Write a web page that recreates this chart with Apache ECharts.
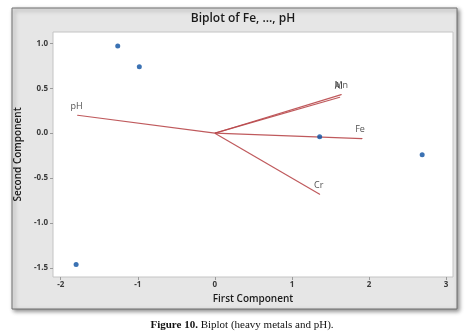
<!DOCTYPE html>
<html>
<head>
<meta charset="utf-8">
<script src="https://cdn.jsdelivr.net/npm/echarts@6/dist/echarts.min.js"></script>
<style>
  html, body { margin: 0; padding: 0; background: #ffffff; }
  #chart { width: 471px; height: 333px; }
</style>
</head>
<body>
<div id="chart"></div>
<script>
// PCA scores (first, second component)
const scoreX = [-1.26, -0.98, -1.80, 1.36, 2.69];
const scoreY = [0.97, 0.74, -1.46, -0.04, -0.24];

// Variable loadings drawn as vectors from the origin
const loadNames = ['pH', 'Al', 'Mn', 'Fe', 'Cr'];
const loadX = [-1.78, 1.62, 1.64, 1.91, 1.36];
const loadY = [0.20, 0.40, 0.43, -0.06, -0.68];

const xTicks = [-2, -1, 0, 1, 2, 3];
const yTicks = [-1.5, -1.0, -0.5, 0.0, 0.5, 1.0];

const vectorColor = '#b8474a';

const chart = echarts.init(document.getElementById('chart'));

// small nudges so overlapping names sit where the plot puts them
const labelShift = {
  pH: [-1, 0],
  Al: [-1, -2],
  Mn: [0, 0],
  Fe: [-2, 0],
  Cr: [-1, 0]
};

const vectorSeries = loadNames.map((name, i) => ({
  type: 'line',
  name: name,
  data: [[0, 0], [loadX[i], loadY[i]]],
  symbol: 'none',
  silent: true,
  lineStyle: { color: vectorColor, width: 1.2, opacity: 0.9 },
  z: 2
}));

// vector names placed at each arrow tip
const labelSeries = {
  type: 'scatter',
  name: 'names',
  silent: true,
  symbolSize: 1,
  itemStyle: { color: vectorColor },
  z: 4,
  data: loadNames.map((name, i) => ({
    value: [loadX[i], loadY[i]],
    label: {
      show: true,
      formatter: name,
      position: 'top',
      distance: 4,
      offset: labelShift[name],
      color: '#1e1e1e',
      fontSize: 9,
      fontFamily: 'Open Sans'
    }
  }))
};

chart.setOption({
  animation: false,
  backgroundColor: '#ffffff',
  graphic: [
    {
      type: 'rect',
      shape: { x: 12, y: 8, width: 445, height: 301 },
      style: {
        fill: '#e6e6e6',
        stroke: '#707070',
        lineWidth: 1,
        shadowBlur: 4,
        shadowOffsetX: 2,
        shadowOffsetY: 2,
        shadowColor: 'rgba(0,0,0,0.45)'
      },
      z: -10
    }
  ],
  title: [
    {
      text: 'Biplot of Fe, ..., pH',
      left: 238,
      textAlign: 'center',
      top: 8,
      textStyle: { fontFamily: 'Open Sans', fontSize: 12, fontWeight: 600, color: '#1a1a1a' }
    },
    {
      text: '{b|Figure 10.} Biplot (heavy metals and pH).',
      left: 237,
      textAlign: 'center',
      top: 315,
      textStyle: {
        fontFamily: 'Liberation Serif',
        fontSize: 11,
        fontWeight: 'normal',
        color: '#111111',
        rich: {
          b: { fontFamily: 'Liberation Serif', fontSize: 11, fontWeight: 'bold', color: '#111111' }
        }
      }
    }
  ],
  grid: {
    left: 53, right: 18, top: 32, bottom: 56,
    show: true,
    backgroundColor: '#ffffff',
    borderColor: '#c4c4c4',
    borderWidth: 1
  },
  xAxis: {
    type: 'value',
    min: -2.1,
    max: 3.09,
    name: 'First Component',
    nameLocation: 'middle',
    nameGap: 17,
    nameTextStyle: { fontFamily: 'Open Sans', fontSize: 10, fontWeight: 600, color: '#1a1a1a' },
    axisLine: { show: false, onZero: false },
    axisTick: { show: true, length: 3, lineStyle: { color: '#9a9a9a' }, customValues: xTicks },
    axisLabel: {
      fontFamily: 'Open Sans', fontSize: 8, fontWeight: 'bold', color: '#3a3a3a', margin: 4,
      customValues: xTicks,
      formatter: v => String(v)
    },
    splitLine: { show: false }
  },
  yAxis: {
    type: 'value',
    min: -1.6,
    max: 1.126,
    name: 'Second Component',
    nameLocation: 'middle',
    nameGap: 29,
    nameTextStyle: { fontFamily: 'Open Sans', fontSize: 10, fontWeight: 600, color: '#1a1a1a' },
    axisLine: { show: false, onZero: false },
    axisTick: { show: true, length: 3, lineStyle: { color: '#9a9a9a' }, customValues: yTicks },
    axisLabel: {
      fontFamily: 'Open Sans', fontSize: 8, fontWeight: 'bold', color: '#3a3a3a', margin: 5,
      customValues: yTicks,
      formatter: v => v.toFixed(1)
    },
    splitLine: { show: false }
  },
  series: [
    ...vectorSeries,
    labelSeries,
    {
      type: 'scatter',
      name: 'scores',
      data: scoreX.map((x, i) => [x, scoreY[i]]),
      symbol: 'circle',
      symbolSize: 5,
      itemStyle: { color: '#0a4fa0' },
      z: 3
    }
  ]
});
</script>
</body>
</html>
